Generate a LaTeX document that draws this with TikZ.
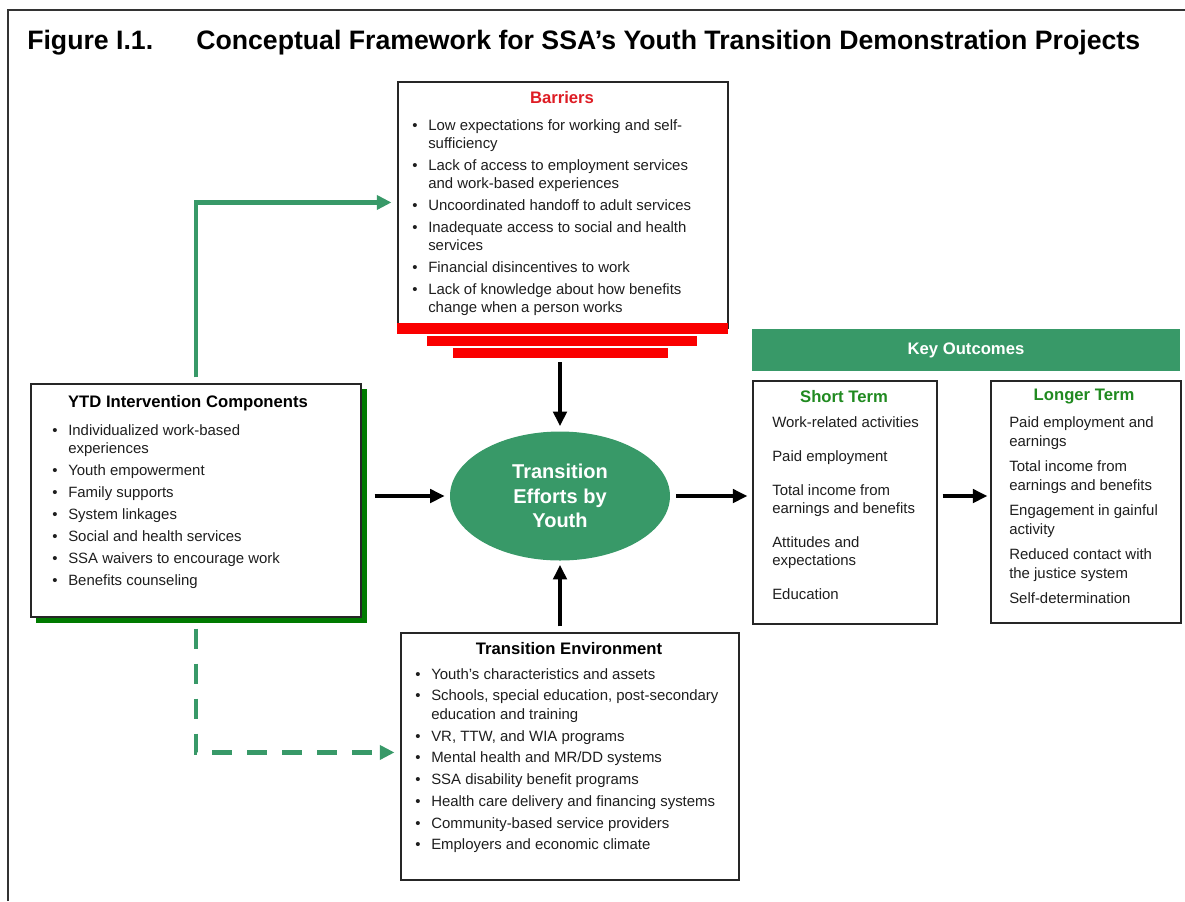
\documentclass[tikz,border=0pt]{standalone}
\usepackage{fontspec}
\setmainfont{Liberation Sans}
\usetikzlibrary{arrows.meta,fit,shapes.geometric}

\definecolor{efgreen}{RGB}{56,153,104}
\definecolor{shadegreen}{RGB}{0,122,0}
\definecolor{termgreen}{RGB}{32,138,32}
\definecolor{barred}{RGB}{250,0,0}
\definecolor{headred}{RGB}{222,28,36}
\definecolor{ink}{RGB}{30,30,30}

% bullet hung to the left of the item text
\newcommand\bul{\llap{\textbullet\hspace{8pt}}}

\tikzset{
  box/.style={draw=black!85, line width=0.8pt, fill=white, inner sep=0pt},
  head/.style={font=\fontsize{12.5}{14}\selectfont\bfseries, inner sep=0pt},
  txt/.style={align=left, anchor=north west, inner sep=0pt, text=ink},
  barrow/.style={line width=3pt, -{Triangle[length=11pt,width=10pt]}},
  garrow/.style={draw=efgreen, line width=3.5pt, -{Triangle[length=11pt,width=10.5pt]}},
}

\begin{document}
\begin{tikzpicture}[x=0.75pt, y=-0.75pt]
		\useasboundingbox (0,0) rectangle (1185,901);
		%%%%% frame and title %%%%%
		\draw[line width=1.5pt, black!80] (8,901) -- (8,10) -- (1185,10);
		\node[anchor=base west, inner sep=0pt, font=\fontsize{20}{23}\selectfont\bfseries] (fignum) at (27,49) {Figure I.1.};
		\node[anchor=base west, inner sep=0pt, font=\fontsize{20}{23}\selectfont\bfseries] (figtitle) at (196,49) {Conceptual Framework for SSA’s Youth Transition Demonstration Projects};
		
		%%%%% barriers %%%%%
		\node[box, fit={(398,82) (728,328)}] (barriers) {};
		\node[fill=barred, inner sep=0pt, fit={(397,323) (728,334)}] (redbar1) {};
		\node[fill=barred, inner sep=0pt, fit={(427,336) (697,346)}] (redbar2) {};
		\node[fill=barred, inner sep=0pt, fit={(453,348) (668,358)}] (redbar3) {};
		\node[head, text=headred] (bartitle) at (562,98) {Barriers};
		\node[txt, font=\fontsize{11.2}{13.9}\selectfont] (barlist) at (428,119) {%
			\bul Low expectations for working and self-\\
			sufficiency\\[2.4pt]
			\bul Lack of access to employment services\\
			and work-based experiences\\[2.4pt]
			\bul Uncoordinated handoff to adult services\\[2.4pt]
			\bul Inadequate access to social and health\\
			services\\[2.4pt]
			\bul Financial disincentives to work\\[2.4pt]
			\bul Lack of knowledge about how benefits\\
			change when a person works};
		
		%%%%% intervention components %%%%%
		\fill[shadegreen] (36,389) rectangle (367,623);
		\node[box, fit={(31,384) (361,617)}] (ytd) {};
		\node[head] (ytdtitle) at (188,403) {YTD Intervention Components};
		\node[txt, font=\fontsize{11.2}{13.5}\selectfont] (ytdlist) at (68,424) {%
			\bul Individualized work-based\\
			experiences\\[3pt]
			\bul Youth empowerment\\[3pt]
			\bul Family supports\\[3pt]
			\bul System linkages\\[3pt]
			\bul Social and health services\\[3pt]
			\bul SSA waivers to encourage work\\[3pt]
			\bul Benefits counseling};
		
		%%%%% transition environment %%%%%
		\node[box, fit={(401,633) (739,880)}] (envt) {};
		\node[head] (envttitle) at (569,649) {Transition Environment};
		\node[txt, font=\fontsize{11.2}{14}\selectfont] (envtlist) at (431,668) {%
			\bul Youth’s characteristics and assets\\[2.3pt]
			\bul Schools, special education, post-secondary\\
			education and training\\[2.3pt]
			\bul VR, TTW, and WIA programs\\[2.3pt]
			\bul Mental health and MR/DD systems\\[2.3pt]
			\bul SSA disability benefit programs\\[2.3pt]
			\bul Health care delivery and financing systems\\[2.3pt]
			\bul Community-based service providers\\[2.3pt]
			\bul Employers and economic climate};
		
		%%%%% efforts %%%%%
		\node[ellipse, fill=efgreen, minimum width=165pt, minimum height=96.75pt, text=white, align=center,
		      font=\fontsize{15}{18.4}\selectfont\bfseries] (efforts) at (560,496) {Transition\\Efforts by\\Youth};
		
		%%%%% outcomes %%%%%
		\node[fill=efgreen, inner sep=0pt, fit={(752,329) (1180,371)}] (keyout) {};
		\node[head, text=white] (keytitle) at (keyout.center) {Key Outcomes};
		\node[box, fit={(753,381) (937,624)}] (short) {};
		\node[head, text=termgreen] (shorttitle) at (844,397) {Short Term};
		\node[txt, font=\fontsize{11.2}{13.5}\selectfont] (shortlist) at (772,416) {%
			Work-related activities\\[12pt]
			Paid employment\\[12pt]
			Total income from\\
			earnings and benefits\\[12pt]
			Attitudes and\\
			expectations\\[12pt]
			Education};
		\node[box, fit={(991,381) (1181,623)}] (longer) {};
		\node[head, text=termgreen] (longertitle) at (1084,397) {Longer Term};
		\node[txt, font=\fontsize{11.2}{14.25}\selectfont] (longerlist) at (1009,416) {%
			Paid employment and\\
			earnings\\[4.5pt]
			Total income from\\
			earnings and benefits\\[4.5pt]
			Engagement in gainful\\
			activity\\[4.5pt]
			Reduced contact with\\
			the justice system\\[4.5pt]
			Self-determination};
		
		%%%%% arrows %%%%%
		\draw[garrow] ([yshift=4.5pt]ytd.north) |- ([xshift=-4.5pt,yshift=-90.75pt]barriers.north west);
		\draw[garrow, dash pattern=on 15pt off 11.25pt] ([yshift=-8.25pt]ytd.south) |- ([xshift=-4.5pt,yshift=-90pt]envt.north west);
		\draw[barrow, shorten <=3pt, shorten >=3.75pt] (efforts.north |- redbar3.south) -- (efforts.north);
		\draw[barrow, shorten <=4.5pt, shorten >=3pt] (efforts.south |- envt.north) -- (efforts.south);
		\draw[barrow, shorten <=9.75pt, shorten >=3.75pt] (ytd.east |- efforts.west) -- (efforts.west);
		\draw[barrow, shorten <=4.5pt, shorten >=3.75pt] (efforts.east) -- (efforts.east -| short.west);
		\draw[barrow, shorten <=3.75pt, shorten >=2.25pt] (short.east |- efforts.east) -- (longer.west |- efforts.east);
	\end{tikzpicture}
\end{document}
